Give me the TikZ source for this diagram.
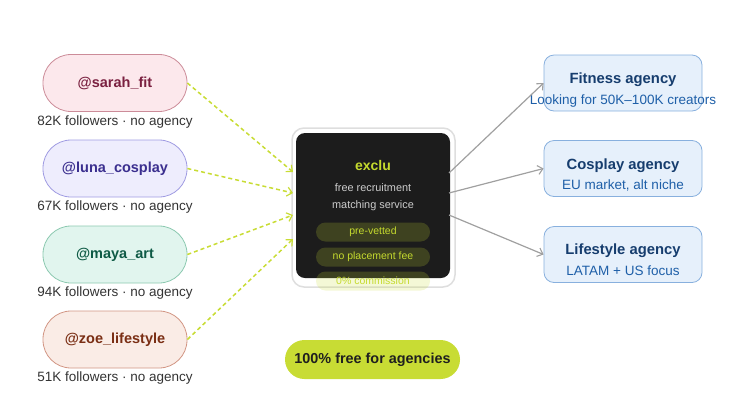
\documentclass[tikz,border=0pt]{standalone}
\usepackage{fontspec}
\setmainfont{Liberation Sans}
\usetikzlibrary{arrows.meta,positioning}
\definecolor{lime}{HTML}{C8DC34}
\definecolor{limetext}{HTML}{C5DA2E}
\definecolor{darkbox}{HTML}{1C1C1C}
\definecolor{graytxt}{HTML}{333333}
\definecolor{pinkfill}{HTML}{FCE8EC}\definecolor{pinkdraw}{HTML}{CC8C99}\definecolor{pinktext}{HTML}{7A2040}
\definecolor{purpfill}{HTML}{EEEDFD}\definecolor{purpdraw}{HTML}{A09CE2}\definecolor{purptext}{HTML}{3B2F8F}
\definecolor{greenfill}{HTML}{E1F5EE}\definecolor{greendraw}{HTML}{8CC9B0}\definecolor{greentext}{HTML}{0E5A45}
\definecolor{orfill}{HTML}{FAECE6}\definecolor{ordraw}{HTML}{D29684}\definecolor{ortext}{HTML}{7A2E14}
\definecolor{agfill}{HTML}{E6F0FB}\definecolor{agdraw}{HTML}{88B0DE}\definecolor{agtitle}{HTML}{163D6E}\definecolor{agsub}{HTML}{1E5FA8}
\definecolor{arrgray}{HTML}{A0A0A0}
\tikzset{
  creator/.style={rectangle, rounded corners=28pt, minimum width=144pt, minimum height=57pt, line width=0.8pt, font=\fontsize{14.5}{16}\selectfont\bfseries, inner sep=0pt},
  follow/.style={font=\fontsize{13.5}{15}\selectfont, text=graytxt, inner sep=0pt},
  agency/.style={rectangle, rounded corners=10pt, minimum width=158pt, minimum height=56pt, fill=agfill, draw=agdraw, line width=0.8pt},
  agtitle/.style={font=\fontsize{14.8}{16}\selectfont\bfseries, text=agtitle, inner sep=0pt},
  agsub/.style={font=\fontsize{13.5}{15}\selectfont, text=agsub, inner sep=0pt},
  feat/.style={rectangle, rounded corners=9.5pt, minimum width=114pt, minimum height=19pt, fill=lime, fill opacity=0.2, text opacity=1, text=limetext, font=\fontsize{10.5}{12}\selectfont, inner sep=0pt},
  lead/.style={draw=lime, line width=1.5pt, dash pattern=on 4pt off 3pt, -{Straight Barb[length=5pt,width=9pt,line width=1.2pt]}},
  route/.style={draw=arrgray, line width=1.2pt, -{Straight Barb[length=5pt,width=9pt,line width=1.1pt]}}
}
\begin{document}
\begin{tikzpicture}[x=1pt,y=-1pt]
\useasboundingbox (0,0) rectangle (746,416);
% central frame
\node[rectangle, rounded corners=12pt, draw=black!13, line width=1.5pt, fill=white, minimum width=163pt, minimum height=159pt, inner sep=0pt] (frame) at (373.5,207.5) {};
\node[rectangle, rounded corners=9pt, fill=darkbox, minimum width=154pt, minimum height=145pt, inner sep=0pt] (core) at (373,205.5) {};
\node[font=\fontsize{14}{16}\selectfont\bfseries, text=limetext, inner sep=0pt] (name) at (373,165) {exclu};
\node[font=\fontsize{10.9}{12}\selectfont, text=black!20, inner sep=0pt] (l1) at (373,188) {free recruitment};
\node[font=\fontsize{10.9}{12}\selectfont, text=black!20, inner sep=0pt] (l2) at (373,206) {matching service};
\node[feat] (f1) at (373,232) {pre-vetted};
\node[feat] (f2) at (373,257) {no placement fee};
\node[feat] (f3) at (373,281) {0\% commission};
% creators
\node[creator, fill=pinkfill, draw=pinkdraw, text=pinktext] (c1) at (115,83) {@sarah\_fit};
\node[follow] (t1) at (115,122) {82K followers · no agency};
\node[creator, fill=purpfill, draw=purpdraw, text=purptext] (c2) at (115,168.5) {@luna\_cosplay};
\node[follow] (t2) at (115,207) {67K followers · no agency};
\node[creator, fill=greenfill, draw=greendraw, text=greentext] (c3) at (115,254.5) {@maya\_art};
\node[follow] (t3) at (115,293) {94K followers · no agency};
\node[creator, fill=orfill, draw=ordraw, text=ortext] (c4) at (115,339.5) {@zoe\_lifestyle};
\node[follow] (t4) at (115,378) {51K followers · no agency};
% agencies
\node[agency] (a1) at (623,83) {};
\node[agtitle] (a1t) at (623,80) {Fitness agency};
\node[agsub] (a1s) at (623,101) {Looking for 50K–100K creators};
\node[agency] (a2) at (623,168.5) {};
\node[agtitle] (a2t) at (623,166) {Cosplay agency};
\node[agsub] (a2s) at (623,185) {EU market, alt niche};
\node[agency] (a3) at (623,254.5) {};
\node[agtitle] (a3t) at (623,251) {Lifestyle agency};
\node[agsub] (a3s) at (623,271) {LATAM + US focus};
% free pill
\node[rectangle, rounded corners=19.5pt, fill=lime, minimum width=175pt, minimum height=39pt, inner sep=0pt, font=\fontsize{14.4}{16}\selectfont\bfseries, text=black!88] (free) at (372.5,359.5) {100\% free for agencies};
% connection points
\coordinate (in1) at (293,172);
\coordinate (in2) at (293,193);
\coordinate (in3) at (293,215);
\coordinate (in4) at (293,239);
\coordinate (out1) at (449,173);
\coordinate (out2) at (449,193);
\coordinate (out3) at (449,215);
\draw[lead] (c1.east) -- (in1);
\draw[lead] (c2.east) -- (in2);
\draw[lead] (c3.east) -- (in3);
\draw[lead] (c4.east) -- (in4);
\draw[route] (out1) -- (a1.west);
\draw[route] (out2) -- (a2.west);
\draw[route] (out3) -- (a3.west);
\end{tikzpicture}
\end{document}
